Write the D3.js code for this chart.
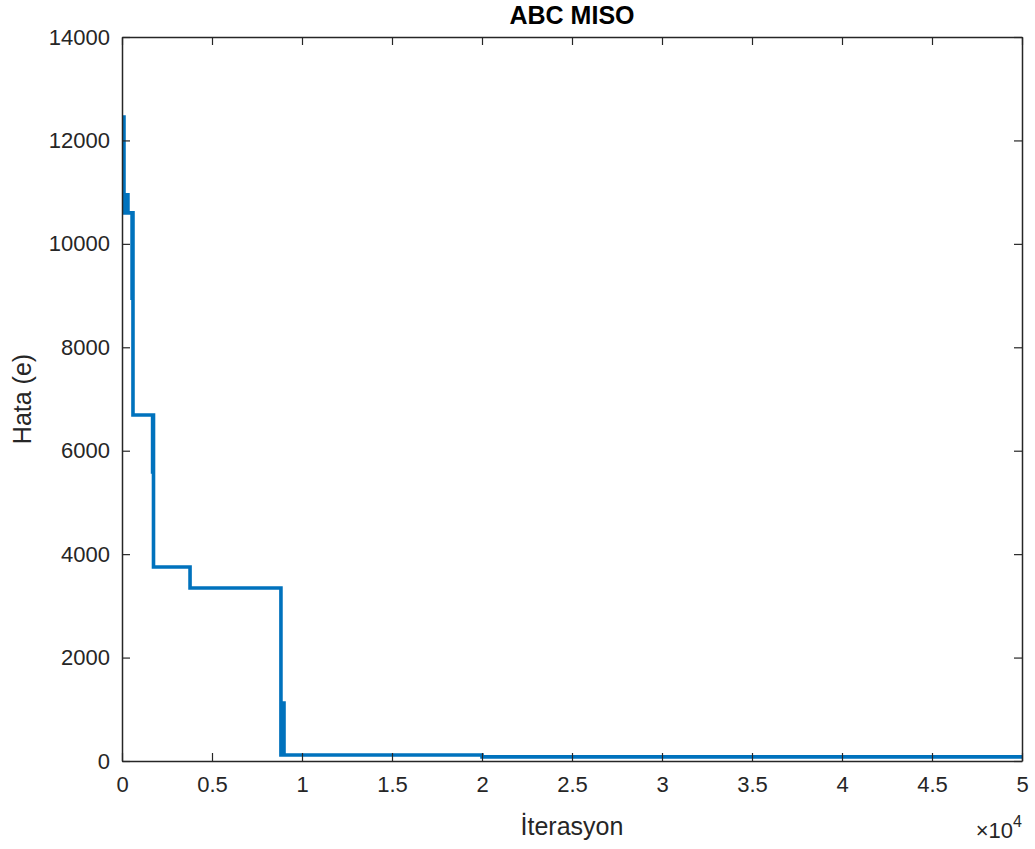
<!DOCTYPE html>
<html>
<head>
<meta charset="utf-8">
<script src="https://cdn.jsdelivr.net/npm/d3@7"></script>
<style>
  body { margin: 0; background: #fff; }
  text { font-family: "Liberation Sans", Arial, Helvetica, sans-serif; }
</style>
</head>
<body>
<div id="viz"></div>
<script>
// ABC MISO - hata vs iterasyon (step curve)
var iterasyon = [0, 110, 190, 330, 560, 590, 610, 1700, 1730, 1750, 3780, 8830, 8980, 9000, 20000, 50000];
var hata      = [12450, 10600, 10950, 10600, 8950, 10600, 6690, 5590, 6690, 3750, 3345, 116, 1120, 116, 80, 80];

var xTicks = [0, 5000, 10000, 15000, 20000, 25000, 30000, 35000, 40000, 45000, 50000];
var yTicks = [0, 2000, 4000, 6000, 8000, 10000, 12000, 14000];

var W = 1035, H = 849;
var mLeft = 122, mRight = 1022, mTop = 37, mBottom = 761;
var axisCol = "#262626";

var svg = d3.select("#viz").append("svg").attr("width", W).attr("height", H);

var x = d3.scaleLinear().domain([0, 50000]).range([mLeft, mRight]);
var y = d3.scaleLinear().domain([0, 14000]).range([mBottom, mTop]);

var pts = iterasyon.map(function(d, i){ return [d, hata[i]]; });
var line = d3.line().x(function(d){ return x(d[0]); }).y(function(d){ return y(d[1]); }).curve(d3.curveStepAfter);

svg.append("path")
  .datum(pts)
  .attr("fill", "none")
  .attr("stroke", "#0072BD")
  .attr("stroke-width", 3.6)
  .attr("d", line);

function styleAxis(g){
  g.selectAll("path").attr("stroke", axisCol).attr("stroke-width", 1.5);
  g.selectAll("line").attr("stroke", axisCol).attr("stroke-width", 1.2);
  g.selectAll("text").attr("fill", axisCol).style("font-size", "22px");
}

var fmtX = function(d){ return String(d / 10000); };

var gx = svg.append("g").attr("transform", "translate(0," + mBottom + ")")
  .call(d3.axisBottom(x).tickValues(xTicks).tickFormat(fmtX).tickSizeInner(-8).tickSizeOuter(0).tickPadding(15));
styleAxis(gx);

var gxt = svg.append("g").attr("transform", "translate(0," + mTop + ")")
  .call(d3.axisTop(x).tickValues(xTicks).tickFormat("").tickSizeInner(-8).tickSizeOuter(0));
styleAxis(gxt);

var gy = svg.append("g").attr("transform", "translate(" + mLeft + ",0)")
  .call(d3.axisLeft(y).tickValues(yTicks).tickFormat(d3.format("d")).tickSizeInner(-8).tickSizeOuter(0).tickPadding(12));
styleAxis(gy);

var gyr = svg.append("g").attr("transform", "translate(" + mRight + ",0)")
  .call(d3.axisRight(y).tickValues(yTicks).tickFormat("").tickSizeInner(-8).tickSizeOuter(0));
styleAxis(gyr);

// title
svg.append("text")
  .attr("x", (mLeft + mRight) / 2).attr("y", 24)
  .attr("text-anchor", "middle")
  .style("font-size", "25px").style("font-weight", "bold")
  .attr("fill", "#000")
  .text("ABC MISO");

// x label
svg.append("text")
  .attr("x", (mLeft + mRight) / 2).attr("y", 835)
  .attr("text-anchor", "middle")
  .style("font-size", "25px")
  .attr("fill", axisCol)
  .text("İterasyon");

// y label
svg.append("text")
  .attr("transform", "translate(31," + ((mTop + mBottom) / 2) + ") rotate(-90)")
  .attr("text-anchor", "middle")
  .style("font-size", "25px")
  .attr("fill", axisCol)
  .text("Hata (e)");

// exponent
var ex = svg.append("text")
  .attr("x", mRight).attr("y", 838)
  .attr("text-anchor", "end")
  .attr("fill", axisCol)
  .style("font-size", "22px");
ex.append("tspan").text("×10");
ex.append("tspan").attr("dy", -11).style("font-size", "16px").text("4");
</script>
</body>
</html>
